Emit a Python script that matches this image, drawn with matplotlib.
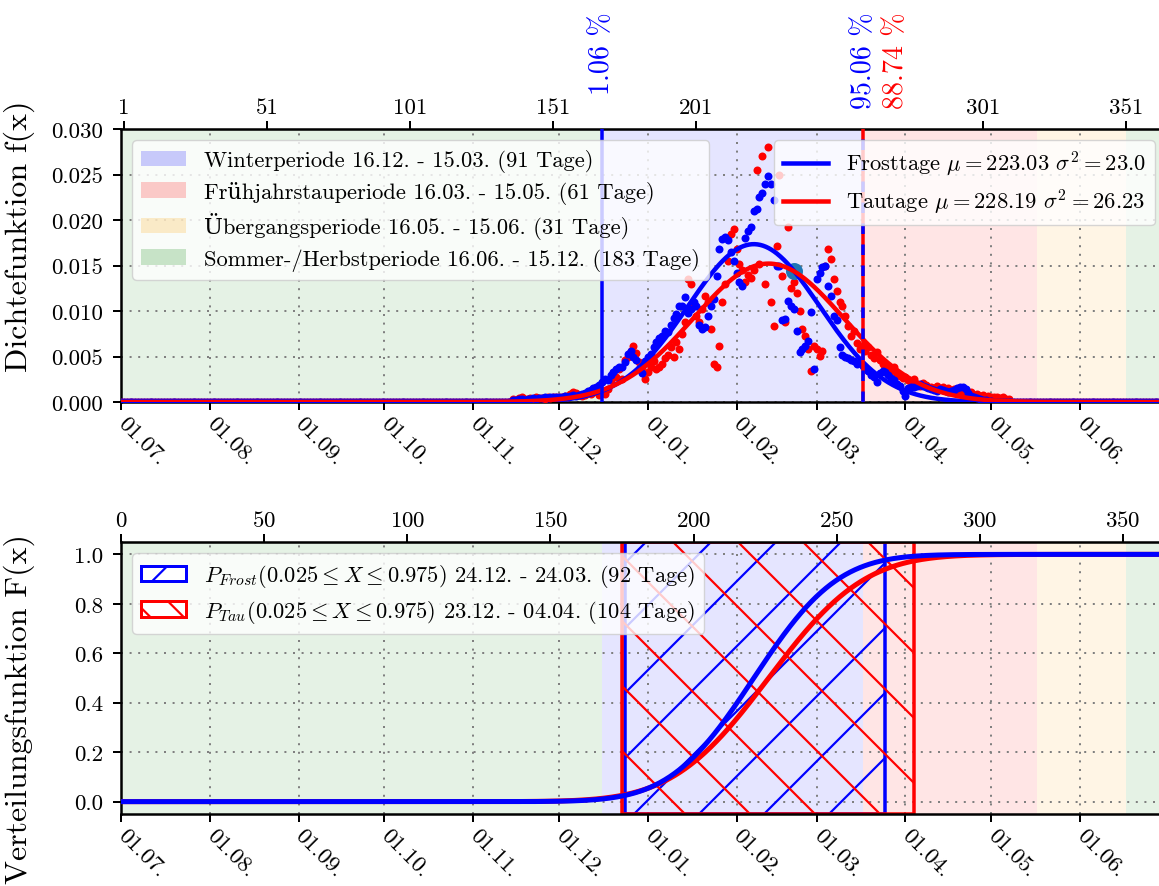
import math
import numpy as np
import matplotlib
matplotlib.use("Agg")
import matplotlib.pyplot as plt
import matplotlib.transforms as mtransforms
from matplotlib.patches import Patch
from matplotlib.lines import Line2D
from matplotlib.collections import LineCollection
from matplotlib.ticker import FormatStrFormatter

# ---------------------------------------------------------------- data
month_labels = ['01.07.', '01.08.', '01.09.', '01.10.', '01.11.', '01.12.',
                '01.01.', '01.02.', '01.03.', '01.04.', '01.05.', '01.06.']
month_pos = [0, 31, 62, 92, 123, 153, 184, 215, 243, 274, 304, 335]
top_ticks = [1, 51, 101, 151, 201, 301, 351]

period_labels = ['Winterperiode 16.12. - 15.03. (91 Tage)',
                 'Frühjahrstauperiode 16.03. - 15.05. (61 Tage)',
                 'Übergangsperiode 16.05. - 15.06. (31 Tage)',
                 'Sommer-/Herbstperiode 16.06. - 15.12. (183 Tage)']
period_colors = ['blue', 'red', 'orange', 'green']
# span boundaries (day position, 01.07. = 0)
period_spans = [(168, 259, 'blue'), (259, 320, 'red'), (320, 351, 'orange'),
                (0, 168, 'green'), (351, 366, 'green')]

# fitted normal distributions (day numbers)
mu_frost, sigma_frost = 223.03, 23.0
mu_tau, sigma_tau = 228.19, 26.23
day_shift = 2          # day number -> axis position

# CDF values at the winter boundaries
pct_lines = [168, 259]
pct_frost = [1.06, 95.06]
pct_tau_end = 88.74

# 95 % intervals (axis positions) for the hatched areas
frost_int = (176, 267)
tau_int = (175, 277)
frost_int_text = '24.12. - 24.03. (92 Tage)'
tau_int_text = '23.12. - 04.04. (104 Tage)'

# observed relative daily frequencies (per mille), days 137 ... 310
first_day = 137
frost_rel = [0.2, 0.2, 0.3, 0.3, 0.2, 0.3, 0.3, 0.4, 0.3, 0.4, 0.4, 0.5, 0.4, 0.5,
             0.5, 0.6, 0.5, 0.6, 0.7, 0.6, 0.7, 0.8, 0.7, 0.8,
             0.9, 1.0, 1.2, 1.3, 1.5, 1.6, 1.9,
             2.2, 2.5, 2.4, 3.0, 3.3, 3.6, 3.9, 3.8,
             4.4, 5.3, 5.6, 4.9, 4.6, 3.6, 3.2,
             4.5, 5.0, 5.3, 6.0, 6.6, 7.0, 7.3, 7.8,
             7.7, 8.5, 9.2, 9.7, 10.5, 10.6, 11.5,
             9.8, 10.2, 11.0, 10.5, 8.5, 8.0, 8.2, 9.5,
             10.5, 11.3, 13.8, 16.8, 17.9, 18.1, 17.8,
             16.5, 15.5, 14.2, 13.2, 12.8, 18.0, 18.8, 19.2,
             21.0, 21.2, 22.5, 23.0, 24.0, 24.8, 24.0, 22.2,
             15.0, 14.9, 9.0, 9.1, 11.1, 10.6, 10.2, 7.8,
             5.5, 5.8, 6.2, 6.7, 9.9, 3.6,
             13.5, 14.2, 14.8, 15.0, 12.8, 11.7, 9.5, 9.0,
             6.0, 5.2, 5.0, 4.8, 4.6, 4.5, 4.2, 4.4,
             4.0, 3.6, 3.4, 3.0, 2.8, 2.2, 3.2, 3.4, 3.3, 3.0, 2.6, 2.4,
             2.0, 1.8, 1.2, 0.7, 1.5,
             1.6, 1.7, 1.8, 2.0, 1.8, 1.6, 1.5, 1.4, 1.3, 1.2, 1.4, 1.3, 1.2,
             1.1, 1.2, 1.3, 1.5, 1.6, 1.7, 1.4, 1.0, 0.7, 0.5, 0.4, 0.3,
             0.2, 0.2, 0.1, 0.1, 0.0, 0.0, 0.0, 0.0, 0.0, 0.0]
tau_rel = [0.3, 0.2, 0.4, 0.5, 0.3, 0.3, 0.4, 0.3, 0.5, 0.4, 0.4, 0.3, 0.5, 0.4,
           0.6, 0.5, 0.6, 0.5, 0.7, 0.6, 0.9, 1.1, 1.0, 0.8,
           0.7, 0.8, 1.0, 0.9, 1.1, 1.3, 0.8,
           1.2, 0.9, 1.4, 2.4, 3.2, 2.8, 3.6, 2.5, 4.6, 5.0, 5.6, 6.2, 5.4, 4.4, 3.8,
           2.5, 3.3, 3.9, 4.5, 3.6, 3.8, 4.2, 4.8, 5.2, 6.0, 5.0, 6.6, 5.8, 7.5, 8.8,
           13.5, 13.0, 10.6, 9.5, 8.8, 10.2, 11.7, 11.0, 8.0, 4.2, 3.8, 6.2, 11.0,
           13.0, 15.5, 18.5, 19.0, 16.8, 15.2, 14.5, 13.2, 14.0, 13.6,
           14.5, 25.5, 15.2, 27.0, 13.0, 28.0, 11.0, 8.3, 17.1, 25.0, 13.8, 8.8, 19.2, 12.5,
           13.2, 12.0, 10.0, 8.0, 7.3, 5.8, 3.4, 6.2, 5.8, 5.1, 5.6,
           15.0, 16.8, 15.7, 13.5, 12.2, 11.0, 10.6, 9.5, 8.3, 7.3, 7.8, 6.5, 5.8,
           6.2, 5.6, 6.0, 5.2, 4.8, 5.5, 4.6, 4.2, 3.9, 3.6, 3.4, 3.8, 3.1, 2.9,
           2.6, 2.8, 2.4, 2.2, 2.5, 2.0, 1.8, 2.1, 1.9, 1.6, 1.7, 1.5, 1.8, 1.4,
           1.6, 1.3, 1.5, 1.2, 1.4, 1.1, 1.3, 1.0, 1.2, 0.9, 1.1, 0.8, 0.9, 0.7,
           0.8, 0.6, 0.7, 0.5, 0.6, 0.5, 0.4, 0.5, 0.3, 0.3]
highlight_day, highlight_val = 235, 0.0144

# ---------------------------------------------------------------- style
DPI = 100
W, H = 1159, 887


def pt(px):
    return px * 72.0 / DPI


plt.rcParams.update({
    'font.family': ['cmr10', 'DejaVu Serif'],
    'mathtext.fontset': 'cm',
    'axes.formatter.use_mathtext': True,
    'axes.unicode_minus': False,
    'hatch.linewidth': pt(2.2),
    'legend.fontsize': pt(22.5),
    'legend.labelspacing': 0.38,
})

FS_TICK = pt(23)
FS_LABEL = pt(32)
FS_PCT = pt(28)

days = np.arange(365)
frost = np.zeros(365)
tau = np.zeros(365)
frost[first_day:first_day + len(frost_rel)] = np.array(frost_rel) / 1000.0
tau[first_day:first_day + len(tau_rel)] = np.array(tau_rel) / 1000.0

xs = np.linspace(0, 365, 1500)


def npdf(x, m, s):
    return np.exp(-0.5 * ((x - m) / s) ** 2) / (s * math.sqrt(2 * math.pi))


def ncdf(x, m, s):
    return np.array([0.5 * (1 + math.erf((v - m) / (s * math.sqrt(2)))) for v in x])


def hatched_span(ax, x0, x1, color, forward, spacing=65, phase=38, z=2):
    """Outlined span with sparse diagonal hatch lines (drawn in pixel space)."""
    span = ax.axvspan(x0, x1, facecolor='none', edgecolor=color, lw=pt(3.5), zorder=z)
    segs = []
    for k in np.arange(phase - 3 * H, W + 3 * H, spacing):
        if forward:   # '/'
            segs.append([(k, 0), (k + H, H)])
        else:         # '\'
            segs.append([(k, 0), (k - H, H)])
    lc = LineCollection(segs, colors=color, linewidths=pt(2.2),
                        transform=mtransforms.IdentityTransform(), zorder=z)
    ax.add_collection(lc, autolim=False)
    lc.set_clip_path(span)
    return span


fig = plt.figure(figsize=(W / DPI, H / DPI), dpi=DPI)
ax1 = fig.add_axes([121 / W, 1 - 403 / H, 1045 / W, 273 / H])
ax2 = fig.add_axes([121 / W, 1 - 815 / H, 1045 / W, 272 / H])

grid_kw = dict(color='0.5', lw=pt(2), ls=(0, (1, 3.3)))

for ax in (ax1, ax2):
    for a, b, c in period_spans:
        ax.axvspan(a, b, color=c, alpha=0.1, lw=0, zorder=0)
    ax.set_xlim(0, 365)
    ax.set_xticks(month_pos)
    ax.set_xticklabels(month_labels, rotation=-45, ha='left', va='center',
                       rotation_mode='anchor')
    ax.grid(True, **grid_kw)
    ax.tick_params(direction='out', length=pt(8), width=pt(2), labelsize=FS_TICK,
                   pad=pt(10))
    for sp in ax.spines.values():
        sp.set_linewidth(pt(2.5))

# ---------------------------------------------------------------- top panel
ax1.plot(days, tau, 'o', color='red', ms=pt(8), mew=0, zorder=3)
ax1.plot(days, frost, 'o', color='blue', ms=pt(8), mew=0, zorder=3)
ax1.plot([highlight_day], [highlight_val], 'o', color='C0', ms=pt(17), mew=0, zorder=4)
ax1.plot(xs, npdf(xs, mu_frost - day_shift, sigma_frost), color='blue', lw=pt(4.5),
         zorder=5)
ax1.plot(xs, npdf(xs, mu_tau - day_shift, sigma_tau), color='red', lw=pt(4.5),
         zorder=5)

ax1.axvline(pct_lines[0], color='blue', lw=pt(3.5), zorder=6)
ax1.axvline(pct_lines[1], color='red', lw=pt(3.5), zorder=6)
ax1.axvline(pct_lines[1], color='blue', lw=pt(3.5), ls=(0, (3, 3)), zorder=6)

ax1.set_ylim(0, 0.030)
ax1.set_yticks(np.arange(0, 0.0301, 0.005))
ax1.yaxis.set_major_formatter(FormatStrFormatter('%.3f'))
ax1.set_ylabel('Dichtefunktion f(x)', fontsize=FS_LABEL)
ax1.yaxis.set_label_coords(-0.082, 0.61)

sec1 = ax1.secondary_xaxis('top')
sec1.set_xticks(top_ticks)
sec1.set_xticklabels([str(t) for t in top_ticks])
sec1.tick_params(direction='out', length=pt(8), width=pt(2), labelsize=FS_TICK, pad=pt(4))

# percentage labels above the plot
trans = mtransforms.blended_transform_factory(ax1.transData, fig.transFigure)
ytxt = 1 - 12 / H
fig.text(pct_lines[0], ytxt, f'{pct_frost[0]} %', transform=trans, rotation=90,
         ha='center', va='top', color='blue', fontsize=FS_PCT)
fig.text(pct_lines[1] + 0.5, ytxt, f'{pct_frost[1]} %', transform=trans, rotation=90,
         ha='center', va='top', color='blue', fontsize=FS_PCT)
fig.text(pct_lines[1] + 11.5, ytxt, f'{pct_tau_end} %', transform=trans, rotation=90,
         ha='center', va='top', color='red', fontsize=FS_PCT)

period_handles = [Patch(facecolor=c, alpha=0.2, lw=0) for c in period_colors]
leg1 = ax1.legend(period_handles, period_labels, loc='upper left')
leg1.set_zorder(10)
ax1.add_artist(leg1)
h_lines = [Line2D([], [], color='blue', lw=pt(4.5)), Line2D([], [], color='red', lw=pt(4.5))]
l_lines = [f'Frosttage $\\mu = {mu_frost}$ $\\sigma^2 = {sigma_frost}$',
           f'Tautage $\\mu = {mu_tau}$ $\\sigma^2 = {sigma_tau}$']
leg2 = ax1.legend(h_lines, l_lines, loc='upper right')
leg2.set_zorder(10)

# ---------------------------------------------------------------- bottom panel
hatched_span(ax2, frost_int[0], frost_int[1], 'blue', True, z=2)
hatched_span(ax2, tau_int[0], tau_int[1], 'red', False, z=2.1)
ax2.plot(xs, ncdf(xs, mu_tau - day_shift, sigma_tau), color='red', lw=pt(5), zorder=5)
ax2.plot(xs, ncdf(xs, mu_frost - day_shift, sigma_frost), color='blue', lw=pt(5), zorder=5)

ax2.set_ylim(-0.05, 1.05)
ax2.set_yticks(np.arange(0, 1.01, 0.2))
ax2.yaxis.set_major_formatter(FormatStrFormatter('%.1f'))
ax2.set_ylabel('Verteilungsfunktion F(x)', fontsize=FS_LABEL)
ax2.yaxis.set_label_coords(-0.082, 0.39)

sec2 = ax2.secondary_xaxis('top')
sec2.set_xticks(np.arange(0, 351, 50))
sec2.tick_params(direction='out', length=pt(8), width=pt(2), labelsize=FS_TICK, pad=pt(4))

hatch_handles = [Patch(facecolor='white', edgecolor='blue', hatch='/', lw=pt(3)),
                 Patch(facecolor='white', edgecolor='red', hatch='\\', lw=pt(3))]
hatch_labels = [r'$P_{Frost}(0.025 \leq X \leq 0.975)$ ' + frost_int_text,
                r'$P_{Tau}(0.025 \leq X \leq 0.975)$ ' + tau_int_text]
leg3 = ax2.legend(hatch_handles, hatch_labels, loc='upper left')
leg3.set_zorder(10)

fig.savefig('out.png', dpi=DPI)
